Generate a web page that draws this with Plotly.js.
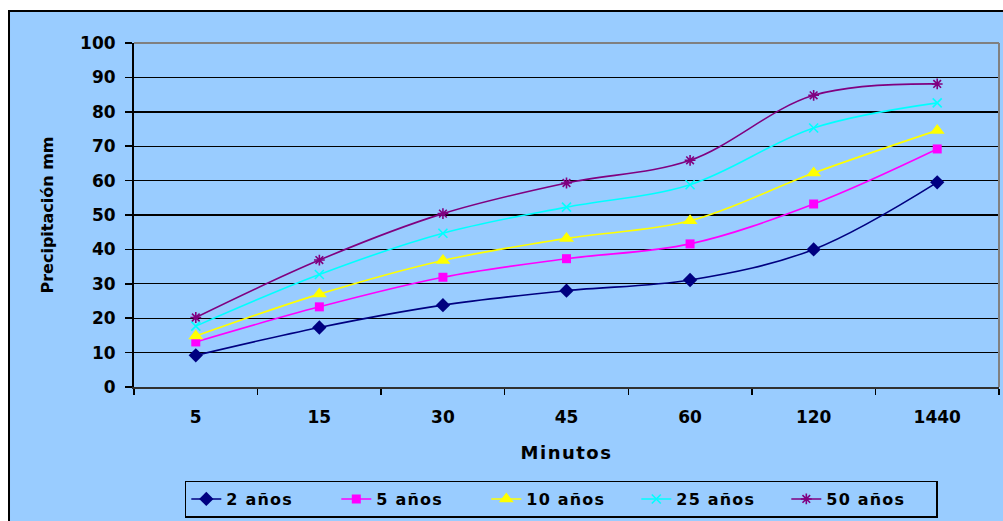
<!DOCTYPE html>
<html>
<head>
<meta charset="utf-8">
<script src="https://cdn.plot.ly/plotly-3.0.1.min.js"></script>
<style>
  html, body { margin: 0; padding: 0; background: #ffffff; }
  #chart { width: 1003px; height: 521px; }
  #chart .xtitle { letter-spacing: 1.5px; }
  #chart .legendtext { letter-spacing: 1.2px; }
</style>
</head>
<body>
<div id="chart"></div>
<script>
// Duración de la lluvia (minutos) y precipitación (mm) por periodo de retorno
const minutos = ['5', '15', '30', '45', '60', '120', '1440'];
const p2 = [9.2, 17.3, 23.8, 28.0, 31.1, 40.0, 59.5];
const p5 = [13.1, 23.3, 31.9, 37.3, 41.6, 53.2, 69.2];
const p10 = [14.8, 27.0, 36.8, 43.2, 48.3, 62.2, 74.6];
const p25 = [17.7, 32.7, 44.7, 52.3, 58.8, 75.3, 82.6];
const p50 = [20.2, 36.9, 50.4, 59.3, 65.9, 84.8, 88.1];
const nombres = ['2 años', '5 años', '10 años', '25 años', '50 años'];

const estilos = [
  { color: '#000080', symbol: 'diamond', size: 11, lw: 0 },
  { color: '#FF00FF', symbol: 'square', size: 9, lw: 0 },
  { color: '#FFFF00', symbol: 'triangle-up', size: 13, lw: 0 },
  { color: '#00FFFF', symbol: 'x-thin-open', size: 9, lw: 1.6 },
  { color: '#800080', symbol: 'asterisk-open', size: 9, lw: 1.6 }
];
const series = [p2, p5, p10, p25, p50];

const traces = series.map((ys, i) => ({
  type: 'scatter',
  mode: 'lines+markers',
  name: nombres[i],
  x: minutos,
  y: ys,
  line: { color: estilos[i].color, width: 1.6, shape: 'spline', smoothing: 1 },
  marker: {
    symbol: estilos[i].symbol,
    size: estilos[i].size,
    color: estilos[i].color,
    line: { color: estilos[i].color, width: estilos[i].lw }
  }
}));

const familia = 'DejaVu Sans, Verdana, sans-serif';
const negrita = (size) => ({ family: familia, size: size, color: '#000000', weight: 'bold' });

const layout = {
  width: 1003,
  height: 521,
  margin: { l: 134, r: 4, t: 43, b: 134 },
  paper_bgcolor: '#ffffff',
  plot_bgcolor: '#CCCCFF',
  font: negrita(17),
  showlegend: true,
  xaxis: {
    type: 'category',
    range: [-0.5, 6.5],
    tickson: 'boundaries',
    ticks: 'outside',
    ticklen: 6,
    tickwidth: 1.5,
    tickcolor: '#000000',
    showgrid: false,
    showline: true,
    linecolor: '#303030',
    linewidth: 1.5,
    ticklabelstandoff: 14,
    tickfont: negrita(17),
    title: { text: 'Minutos', font: negrita(18), standoff: 20 },
    automargin: false,
    fixedrange: true
  },
  yaxis: {
    range: [0, 100],
    dtick: 10,
    ticks: 'outside',
    ticklen: 7,
    tickwidth: 1.5,
    tickcolor: '#000000',
    showgrid: true,
    gridcolor: '#000000',
    gridwidth: 1.4,
    zeroline: false,
    showline: true,
    linecolor: '#000000',
    linewidth: 2,
    ticklabelstandoff: 6,
    tickfont: negrita(17),
    title: { text: 'Precipitación mm', font: negrita(16), standoff: 22 },
    automargin: false,
    fixedrange: true
  },
  legend: {
    orientation: 'h',
    x: 0.494,
    xanchor: 'center',
    y: -0.272,
    yanchor: 'top',
    bgcolor: 'rgba(0,0,0,0)',
    bordercolor: '#000000',
    borderwidth: 1.5,
    font: negrita(16),
    entrywidth: 105,
    itemwidth: 30,
    tracegroupgap: 0
  },
  shapes: [
    // área del gráfico
    {
      type: 'rect', xref: 'paper', yref: 'paper', layer: 'below',
      x0: -0.1445, x1: 1.2, y0: -0.6, y1: 1.093,
      fillcolor: '#99CCFF',
      line: { color: '#000000', width: 2 }
    },
    // borde superior y derecho del área de trazado
    {
      type: 'line', xref: 'paper', yref: 'paper', layer: 'above',
      x0: 0, x1: 1, y0: 1, y1: 1,
      line: { color: '#808080', width: 2 }
    },
    {
      type: 'line', xref: 'paper', yref: 'paper', layer: 'above',
      x0: 1, x1: 1, y0: 0, y1: 1,
      line: { color: '#808080', width: 2 }
    }
  ]
};

Plotly.newPlot('chart', traces, layout, { displayModeBar: false, staticPlot: true });
</script>
</body>
</html>
